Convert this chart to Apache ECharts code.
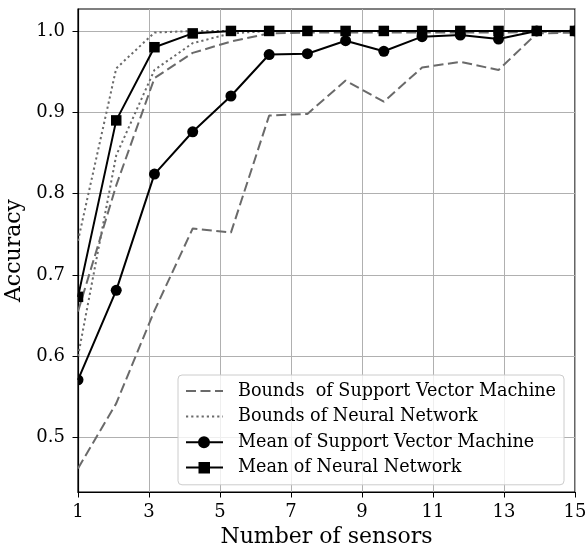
<!DOCTYPE html>
<html>
<head>
<meta charset="utf-8">
<script src="https://cdn.jsdelivr.net/npm/echarts@6/dist/echarts.min.js"></script>
<style>
  html, body { margin: 0; padding: 0; background: #ffffff; }
  #chart { width: 587px; height: 548px; }
</style>
</head>
<body>
<div id="chart"></div>
<script>
// Number of sensors used at each evaluation step
const sensorCounts = [1, 2.077, 3.154, 4.231, 5.308, 6.385, 7.462, 8.538, 9.615, 10.692, 11.769, 12.846, 13.923, 15];

// Support Vector Machine accuracy: mean and min/max bounds
const svmMean  = [0.571, 0.681, 0.824, 0.876, 0.920, 0.971, 0.972, 0.988, 0.975, 0.993, 0.995, 0.990, 1.000, 1.000];
const svmLower = [0.462, 0.542, 0.656, 0.757, 0.752, 0.896, 0.898, 0.939, 0.913, 0.955, 0.962, 0.952, 0.997, 0.998];
const svmUpper = [0.655, 0.810, 0.942, 0.973, 0.987, 0.997, 0.998, 0.998, 0.998, 0.998, 0.998, 0.998, 0.999, 0.999];

// Neural Network accuracy: mean and min/max bounds
const nnMean  = [0.673, 0.890, 0.980, 0.997, 1.000, 1.000, 1.000, 1.000, 1.000, 1.000, 1.000, 1.000, 1.000, 1.000];
const nnLower = [0.600, 0.847, 0.952, 0.985, 0.997, 1.000, 1.000, 1.000, 1.000, 1.000, 1.000, 1.000, 1.000, 1.000];
const nnUpper = [0.742, 0.954, 0.998, 1.000, 1.000, 1.000, 1.000, 1.000, 1.000, 1.000, 1.000, 1.000, 1.000, 1.000];

// Axis ticks
const xTicks = [1, 3, 5, 7, 9, 11, 13, 15];
const yTicks = [0.5, 0.6, 0.7, 0.8, 0.9, 1.0];

const LABEL_SVM_BOUNDS = 'Bounds  of Support Vector Machine';
const LABEL_NN_BOUNDS = 'Bounds of Neural Network';
const LABEL_SVM_MEAN = 'Mean of Support Vector Machine';
const LABEL_NN_MEAN = 'Mean of Neural Network';

const FONT = 'DejaVu Serif';
const GRAY = '#6a6a6a';
const NO_FILL = 'rgba(0,0,0,0)';

const GRID = { left: 78, right: 12, top: 9, bottom: 56 };
const BORDER = 1.2;

const pairs = ys => sensorCounts.map((x, i) => [x, ys[i]]);

function boundSeries(name, ys, dash) {
  return {
    name: name,
    type: 'line',
    data: pairs(ys),
    symbol: 'none',
    lineStyle: { color: GRAY, width: 2, type: dash },
    itemStyle: { color: NO_FILL },
    z: 2,
    silent: true
  };
}

// Lines of the mean curves (markers are drawn by a clipped custom series below)
function meanLine(name, ys) {
  return {
    name: name,
    type: 'line',
    data: pairs(ys),
    symbol: 'none',
    lineStyle: { color: '#000000', width: 2 },
    itemStyle: { color: '#000000' },
    z: 3,
    silent: true
  };
}

// Markers clipped at the frame, like points sitting on the plot edge
function meanMarkers(name, ys, shape, size) {
  return {
    name: name,
    type: 'custom',
    data: pairs(ys),
    clip: true,
    z: 4,
    silent: true,
    encode: { x: 0, y: 1 },
    renderItem: (params, api) => {
      const p = api.coord([api.value(0), api.value(1)]);
      const style = { fill: '#000000' };
      if (shape === 'circle') {
        return { type: 'circle', shape: { cx: p[0], cy: p[1], r: size / 2 }, style: style };
      }
      return { type: 'rect', shape: { x: p[0] - size / 2, y: p[1] - size / 2, width: size, height: size }, style: style };
    }
  };
}

const chart = echarts.init(document.getElementById('chart'), null, { renderer: 'canvas' });

chart.setOption({
  animation: false,
  backgroundColor: '#ffffff',
  grid: {
    left: GRID.left, right: GRID.right, top: GRID.top, bottom: GRID.bottom,
    outerBoundsMode: 'none',
    containLabel: false,
    show: true,
    borderColor: '#000000',
    borderWidth: BORDER,
    backgroundColor: 'transparent'
  },
  xAxis: {
    type: 'value',
    min: 1, max: 15, interval: 2,
    name: 'Number of sensors',
    nameLocation: 'middle',
    nameGap: 34,
    nameTextStyle: { fontFamily: FONT, fontSize: 22, color: '#000000' },
    axisLine: { onZero: false, lineStyle: { color: '#000000', width: BORDER } },
    axisTick: { show: true, inside: false, length: 5.5, lineStyle: { color: '#000000', width: 1 }, customValues: xTicks },
    axisLabel: { fontFamily: FONT, fontSize: 18, color: '#000000', margin: 11, customValues: xTicks, hideOverlap: false },
    splitLine: { show: true, lineStyle: { color: '#b0b0b0', width: 1 } }
  },
  yAxis: {
    type: 'value',
    min: 0.433, max: 1.027,
    name: 'Accuracy',
    nameLocation: 'middle',
    nameGap: 46,
    nameTextStyle: { fontFamily: FONT, fontSize: 22, color: '#000000' },
    axisLine: { onZero: false, lineStyle: { color: '#000000', width: BORDER } },
    axisTick: { show: true, inside: false, length: 5.5, lineStyle: { color: '#000000', width: 1 }, customValues: yTicks },
    axisLabel: {
      fontFamily: FONT, fontSize: 18, color: '#000000', margin: 13,
      customValues: yTicks,
      formatter: v => v.toFixed(1)
    },
    splitLine: { show: true, lineStyle: { color: '#b0b0b0', width: 1 } }
  },
  legend: {
    orient: 'vertical',
    left: 178,
    top: 375,
    padding: [6, 8, 7, 7],
    itemWidth: 37,
    itemHeight: 12.5,
    itemGap: 5.6,
    backgroundColor: 'rgba(255,255,255,0.8)',
    borderColor: '#cccccc',
    borderWidth: 1,
    borderRadius: 4,
    textStyle: { fontFamily: FONT, fontSize: 17.6, color: '#000000', lineHeight: 20, padding: [0, 0, 0, 10] },
    selectedMode: false,
    data: [
      { name: LABEL_SVM_BOUNDS },
      { name: LABEL_NN_BOUNDS },
      { name: LABEL_SVM_MEAN, icon: 'path://M0,5h14M23,5h14M13,5a5,5 0 1,0 10,0a5,5 0 1,0 -10,0', itemStyle: { color: '#000000', borderColor: '#000000', borderWidth: 2 } },
      { name: LABEL_NN_MEAN, icon: 'path://M0,5h14M23,5h14M13.5,0.5h9.5v9.5h-9.5z', itemStyle: { color: '#000000', borderColor: '#000000', borderWidth: 2 } }
    ]
  },
  series: [
    boundSeries(LABEL_SVM_BOUNDS, svmLower, [10, 4.5]),
    boundSeries(LABEL_SVM_BOUNDS, svmUpper, [10, 4.5]),
    boundSeries(LABEL_NN_BOUNDS, nnLower, [2.2, 3]),
    boundSeries(LABEL_NN_BOUNDS, nnUpper, [2.2, 3]),
    meanLine(LABEL_SVM_MEAN, svmMean),
    meanLine(LABEL_NN_MEAN, nnMean),
    meanMarkers(LABEL_SVM_MEAN, svmMean, 'circle', 11),
    meanMarkers(LABEL_NN_MEAN, nnMean, 'rect', 10.5)
  ]
});
</script>
</body>
</html>
